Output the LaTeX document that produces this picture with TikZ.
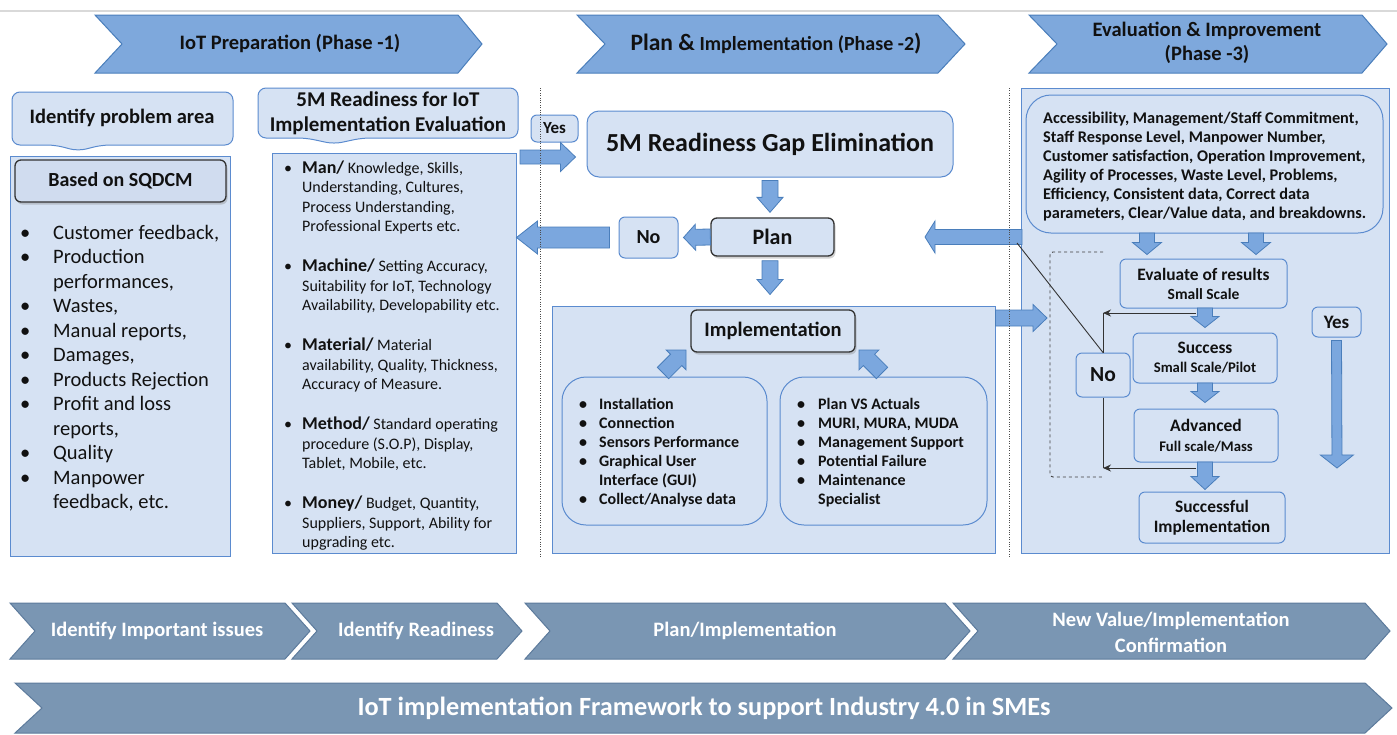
\documentclass[tikz,border=0pt]{standalone}
\usepackage{fontspec}
\setmainfont{Carlito}
\usetikzlibrary{shadows,arrows.meta,calc}
\definecolor{pfill}{HTML}{D6E2F3}
\definecolor{pline}{HTML}{5B8BCF}
\definecolor{afill}{HTML}{7BA7DE}
\definecolor{aline}{HTML}{4A7EBB}
\definecolor{cfill}{HTML}{7EA8DC}
\definecolor{bfill}{HTML}{7A96B3}
\definecolor{bline}{HTML}{5D7B9C}
\definecolor{sqfill}{HTML}{D0DCEF}
\definecolor{txt}{HTML}{111111}
\newcommand\fs[2]{\fontsize{#1}{#2}\selectfont}
% block arrow: #1 start, #2 tip, #3 body half width, #4 head half width, #5 head length
\newcommand\barr[5]{\draw[barsty] ($#1!#3!90:#2$) -- ($#2!#5!#1!#3!90:#2$) -- ($#2!#5!#1!#4!90:#2$) -- #2 -- ($#2!#5!#1!#4!-90:#2$) -- ($#2!#5!#1!#3!-90:#2$) -- ($#1!#3!-90:#2$) -- cycle;}
\tikzset{
  panel/.style={draw=pline, fill=pfill, line width=1pt, inner sep=0pt},
  rbox/.style={draw=pline, fill=pfill, line width=1pt, rounded corners=6pt, inner sep=0pt, align=center, text=txt},
  dbox/.style={draw=black!80, fill=pfill, line width=1.3pt, rounded corners=6pt, inner sep=0pt, text=txt,
    drop shadow={opacity=0.35, shadow xshift=1.5pt, shadow yshift=-2.5pt}},
  barsty/.style={draw=aline, fill=afill, line width=0.8pt},
  chevtop/.style={draw=aline, fill=cfill, line width=1pt},
  chevbot/.style={draw=bline, fill=bfill, line width=1pt},
  lst/.style={anchor=base west, inner sep=0pt, text=txt},
  ph/.style={inner sep=0pt, text=txt, align=center, font=\bfseries\fs{20.5}{24}},
  bt/.style={inner sep=0pt, text=white, align=center, font=\bfseries\fs{20.5}{26}},
  lnk/.style={line width=1pt, black!80},
  tip/.style={-{Stealth[length=8pt,width=7pt]}},
  sz/.style 2 args={minimum width=#1, minimum height=#2}
}
\begin{document}
\begin{tikzpicture}[x=1pt,y=-1pt]
\useasboundingbox (0,0) rectangle (1397,734);
\draw[black!15, line width=1.5pt] (0,11) -- (1397,11);

% ---- phase chevrons
\draw[chevtop] (95,15) -- (458,15) -- (482,44) -- (458,73) -- (95,73) -- (122,44) -- cycle;
\node[ph] (ph1) at (290,44) {IoT Preparation (Phase -1)};
\draw[chevtop] (577,15) -- (938,15) -- (965,44) -- (938,73) -- (577,73) -- (605,44) -- cycle;
\node[ph] (ph2) at (776,44) {{\fs{23.5}{24}Plan \&} {\fs{20}{24}Implementation (Phase -2}{\fs{23.5}{24})}};
\draw[chevtop] (1029,15) -- (1362,15) -- (1387,44) -- (1362,73) -- (1029,73) -- (1057,44) -- cycle;
\node[ph] (ph3) at (1207,43) {Evaluation \& Improvement\\(Phase -3)};

% ---- panels
\node[panel, sz={220}{400}] (p1) at (120,356) {};
\node[panel, sz={244}{400}] (p2) at (394,353) {};
\node[panel, sz={443}{247}] (p3) at (773.5,429.5) {};
\node[panel, sz={368}{465}] (p4) at (1205,320.5) {};

% ---- phase 1
\draw[draw=pline, fill=pfill, line width=1pt, rounded corners=8pt]
  (12,92) -- (233,92) -- (233,145) -- (102,145) -- (78,151) -- (55,145) -- (12,145) -- cycle;
\node[inner sep=0pt, text=txt, font=\bfseries\fs{20.5}{24}] (pa) at (122,118) {Identify problem area};
\node[dbox, fill=sqfill, sz={211}{42}, font=\bfseries\fs{20}{24}] (sq) at (120.5,181) {Based on SQDCM};
\node[lst] (l1) at (20,239) {\fs{20.5}{24.5}\begin{tabular}[t]{@{}p{33pt}@{}l@{}}
•&Customer feedback,\\
•&Production\\
&performances,\\
•&Wastes,\\
•&Manual reports,\\
•&Damages,\\
•&Products Rejection\\
•&Profit and loss\\
&reports,\\
•&Quality\\
•&Manpower\\
&feedback, etc.
\end{tabular}};

\draw[draw=pline, fill=pfill, line width=1pt, rounded corners=8pt]
  (258,88) -- (518,88) -- (518,138) -- (362,138) -- (334,144) -- (306,138) -- (258,138) -- cycle;
\node[inner sep=0pt, text=txt, align=center, font=\bfseries\fs{21}{25}] (rd) at (388,113) {5M Readiness for IoT\\Implementation Evaluation};
\node[lst] (l2) at (284,173) {\fs{16}{19.5}\begin{tabular}[t]{@{}p{18pt}@{}l@{}}
•&{\bfseries\fs{18}{19.5}Man/} Knowledge, Skills,\\
&Understanding, Cultures,\\
&Process Understanding,\\
&Professional Experts etc.\\[20.5pt]
•&{\bfseries\fs{18}{19.5}Machine/} Setting Accuracy,\\
&Suitability for IoT, Technology\\
&Availability, Developability etc.\\[20.5pt]
•&{\bfseries\fs{18}{19.5}Material/} Material\\
&availability, Quality, Thickness,\\
&Accuracy of Measure.\\[20.5pt]
•&{\bfseries\fs{18}{19.5}Method/} Standard operating\\
&procedure (S.O.P), Display,\\
&Tablet, Mobile, etc.\\[20.5pt]
•&{\bfseries\fs{18}{19.5}Money/} Budget, Quantity,\\
&Suppliers, Support, Ability for\\
&upgrading etc.
\end{tabular}};

% ---- phase 2
\node[rbox, sz={47}{27}, font=\bfseries\fs{17}{20}] (yes1) at (554.5,128.5) {Yes};
\node[rbox, rounded corners=12pt, sz={366}{66}, font=\bfseries\fs{26}{30}] (gap) at (770,144) {5M Readiness Gap Elimination};
\node[dbox, sz={123}{38}, font=\bfseries\fs{22}{26}] (plan) at (772.5,237) {Plan};
\node[rbox, sz={59}{41}, font=\bfseries\fs{20}{24}] (no1) at (648.5,237.5) {No};
\node[dbox, sz={164}{42}, font=\bfseries\fs{20.5}{24}] (impl) at (773,331) {Implementation};
\node[rbox, rounded corners=24pt, sz={205}{148}] (lb) at (664.5,451) {};
\node[rbox, rounded corners=24pt, sz={207}{148}] (rb) at (883.5,451) {};
\node[lst] (l3) at (579,409) {\bfseries\fs{16}{19}\begin{tabular}[t]{@{}p{20pt}@{}l@{}}
•&Installation\\
•&Connection\\
•&Sensors Performance\\
•&Graphical User\\
&Interface (GUI)\\
•&Collect/Analyse data
\end{tabular}};
\node[lst] (l4) at (797,409) {\bfseries\fs{16}{19}\begin{tabular}[t]{@{}p{21pt}@{}l@{}}
•&Plan VS Actuals\\
•&MURI, MURA, MUDA\\
•&Management Support\\
•&Potential Failure\\
•&Maintenance\\
&Specialist
\end{tabular}};

% ---- phase 3
\node[rbox, rounded corners=25pt, sz={357}{138}] (crit) at (1204.5,164) {};
\node[lst] (l5) at (1043,123) {\bfseries\fs{16.3}{19}\begin{tabular}[t]{@{}l@{}}
Accessibility, Management/Staff Commitment,\\
Staff Response Level, Manpower Number,\\
Customer satisfaction, Operation Improvement,\\
Agility of Processes, Waste Level, Problems,\\
Efficiency, Consistent data, Correct data\\
parameters, Clear/Value data, and breakdowns.
\end{tabular}};
\node[rbox, sz={167}{49}, font=\bfseries\fs{17.4}{19}] (ev) at (1203.5,283.5) {Evaluate of results\\{\fs{15.5}{19}Small Scale}};
\node[rbox, sz={144}{50}, font=\bfseries\fs{17.4}{19}] (su) at (1205,358) {Success\\{\fs{14.7}{19}Small Scale/Pilot}};
\node[rbox, sz={144}{53}, font=\bfseries\fs{17.5}{20}] (ad) at (1206,435.5) {Advanced\\{\fs{14.7}{20}Full scale/Mass}};
\node[rbox, sz={146}{51}, font=\bfseries\fs{17.4}{20}] (si) at (1212,517.5) {Successful\\Implementation};
\node[rbox, sz={49}{30}, font=\bfseries\fs{19}{22}] (yes2) at (1336.5,322) {Yes};
\node[rbox, sz={54}{44}, font=\bfseries\fs{21.5}{24}] (no2) at (1103,375) {No};

% ---- block arrows
\coordinate (ya) at (520,157);
\coordinate (yb) at ($(gap.west |- ya)+(-11,0)$);
\barr{(ya)}{(yb)}{7pt}{14.5pt}{15pt}
\coordinate (ga) at ($(gap.south)+(0,3)$);
\coordinate (gb) at ($(gap.south |- plan.north)+(0,-5)$);
\barr{(ga)}{(gb)}{8pt}{13pt}{15pt}
\coordinate (pa1) at (plan.west);
\coordinate (pb1) at ($(no1.east)+(5,0)$);
\barr{(pa1)}{(pb1)}{8pt}{13pt}{12pt}
\coordinate (na) at ($(no1.west)+(-9,0)$);
\coordinate (nb) at (p2.east |- na);
\barr{(na)}{(nb)}{10.5pt}{16.5pt}{21pt}
\coordinate (pc) at ($(gap.south |- plan.south)+(0,4)$);
\coordinate (pd) at ($(gap.south |- p3.north)+(0,-11)$);
\barr{(pc)}{(pd)}{8pt}{13pt}{15pt}
\coordinate (fb) at (1022,237);
\coordinate (fc) at (925,237);
\barr{(fb)}{(fc)}{7.5pt}{16pt}{10pt}
\coordinate (ia) at (p3.east |- 0,318);
\coordinate (ib) at (1047,318);
\barr{(ia)}{(ib)}{8pt}{13.5pt}{14pt}
\coordinate (ca) at (1147,233);
\coordinate (cb) at ($(ca |- ev.north)+(0,-4)$);
\barr{(ca)}{(cb)}{7.5pt}{14.5pt}{12pt}
\coordinate (cc) at (1256,233);
\coordinate (cd) at ($(cc |- ev.north)+(0,-4)$);
\barr{(cc)}{(cd)}{7.5pt}{14.5pt}{12pt}
\coordinate (e1) at (1205,308);
\coordinate (e2) at ($(e1 |- su.north)+(0,-5)$);
\barr{(e1)}{(e2)}{7.5pt}{14pt}{11pt}
\coordinate (s1) at (1205,383);
\coordinate (s2) at ($(s1 |- ad.north)+(0,-6)$);
\barr{(s1)}{(s2)}{7.5pt}{14pt}{11pt}
\coordinate (d1) at (1205,462);
\coordinate (d2) at ($(d1 |- si.north)+(0,-2)$);
\barr{(d1)}{(d2)}{7.5pt}{14pt}{13pt}
\coordinate (y1) at ($(yes2.south)+(0,3)$);
\coordinate (y2) at (1337,468);
\barr{(y1)}{(y2)}{5pt}{16.5pt}{13pt}
\coordinate (la) at (663,373);
\coordinate (lb2) at (686,350);
\barr{(la)}{(lb2)}{8pt}{14pt}{14pt}
\coordinate (ra) at (882,373);
\coordinate (rb2) at (859,350);
\barr{(ra)}{(rb2)}{8pt}{14pt}{14pt}

% ---- No loop lines
\coordinate (ev1) at (1196,313);
\coordinate (ad1) at (1196,468);
\draw[lnk, tip] (ev1) -- (ev1 -| no2);
\draw[lnk] (no2.north) -- (ev1 -| no2);
\draw[lnk] (no2.south) -- (ad1 -| no2);
\draw[lnk, tip] (ad1) -- (ad1 -| no2);
\draw[line width=0.9pt, black!80] (1017,243) -- (no2.north);
\draw[dashed, black!75, line width=0.9pt, rounded corners=3pt] (1103,252) -- (1050,252) -- (1050,477) -- (1103,477);

% ---- dotted separators
\draw[black!70, line width=0.9pt, dash pattern=on 1pt off 1.4pt] (540,88) -- (540,558);
\draw[black!70, line width=0.9pt, dash pattern=on 1pt off 1.4pt] (1009,88) -- (1009,558);

% ---- bottom chevrons
\draw[chevbot] (10,603) -- (285,603) -- (310,631) -- (285,659) -- (10,659) -- (35,631) -- cycle;
\node[bt] (b1) at (157,631) {Identify Important issues};
\draw[chevbot] (292,603) -- (497,603) -- (522,631) -- (497,659) -- (292,659) -- (317,631) -- cycle;
\node[bt] (b2) at (416,631) {Identify Readiness};
\draw[chevbot] (525,603) -- (945,603) -- (970,631) -- (945,659) -- (525,659) -- (550,631) -- cycle;
\node[bt] (b3) at (745,631) {Plan/Implementation};
\draw[chevbot] (953,603) -- (1365,603) -- (1390,631) -- (1365,659) -- (953,659) -- (978,631) -- cycle;
\node[bt] (b4) at (1171,632) {New Value/Implementation\\Confirmation};
\draw[chevbot] (15,683) -- (1365,683) -- (1392,708) -- (1365,733) -- (15,733) -- (42,708) -- cycle;
\node[bt, font=\bfseries\fs{26.3}{30}] (b5) at (704,708) {IoT implementation Framework to support Industry 4.0 in SMEs};
\end{tikzpicture}
\end{document}
